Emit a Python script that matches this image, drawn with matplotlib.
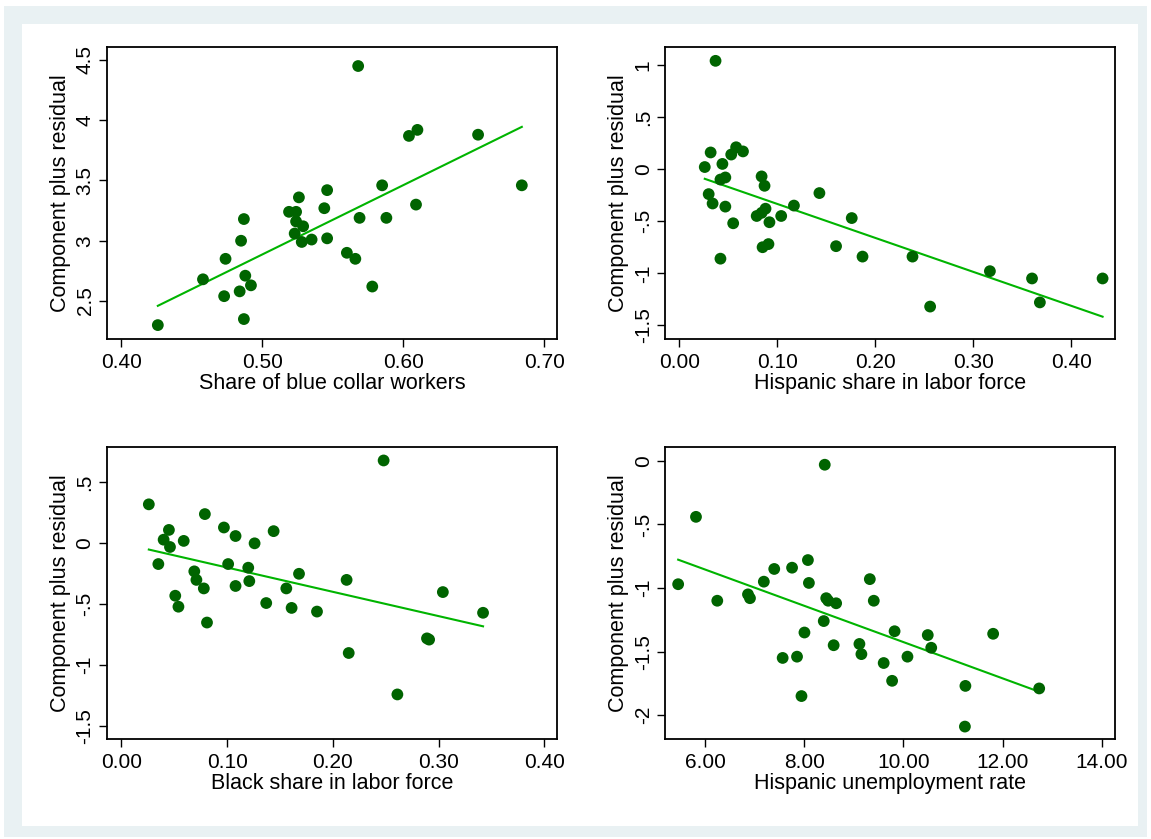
import matplotlib
matplotlib.use("Agg")
import matplotlib.pyplot as plt
from matplotlib.patches import Rectangle

plt.rcParams['font.family'] = ['Liberation Sans', 'DejaVu Sans']

# panel 1: share of blue collar workers
blue_x = [0.426, 0.458, 0.474, 0.473, 0.484, 0.485, 0.487, 0.488, 0.492, 0.487,
          0.519, 0.524, 0.526, 0.524, 0.529, 0.523, 0.528, 0.535, 0.544, 0.546,
          0.546, 0.560, 0.566, 0.569, 0.568, 0.578, 0.585, 0.588, 0.604, 0.610,
          0.609, 0.653, 0.684]
blue_y = [2.30, 2.68, 2.85, 2.54, 2.58, 3.00, 3.18, 2.71, 2.63, 2.35,
          3.24, 3.24, 3.36, 3.16, 3.12, 3.06, 2.99, 3.01, 3.27, 3.42,
          3.02, 2.90, 2.85, 3.19, 4.45, 2.62, 3.46, 3.19, 3.87, 3.92,
          3.30, 3.88, 3.46]
blue_fit_x = [0.426, 0.684]
blue_fit_y = [2.46, 3.945]

# panel 2: hispanic share in labor force
hisp_x = [0.037, 0.032, 0.026, 0.044, 0.053, 0.058, 0.065, 0.042, 0.047, 0.030,
          0.034, 0.047, 0.055, 0.042, 0.084, 0.087, 0.079, 0.084, 0.088, 0.092,
          0.085, 0.091, 0.104, 0.117, 0.143, 0.176, 0.160, 0.187, 0.238, 0.256,
          0.317, 0.360, 0.368, 0.432]
hisp_y = [1.04, 0.16, 0.02, 0.05, 0.14, 0.21, 0.17, -0.10, -0.08, -0.24,
          -0.33, -0.36, -0.52, -0.86, -0.07, -0.16, -0.45, -0.42, -0.38, -0.51,
          -0.75, -0.72, -0.45, -0.35, -0.23, -0.47, -0.74, -0.84, -0.84, -1.32,
          -0.98, -1.05, -1.28, -1.05]
hisp_fit_x = [0.026, 0.432]
hisp_fit_y = [-0.093, -1.417]

# panel 3: black share in labor force
black_x = [0.026, 0.035, 0.045, 0.040, 0.046, 0.059, 0.051, 0.054, 0.069, 0.071,
           0.078, 0.079, 0.081, 0.097, 0.101, 0.108, 0.108, 0.120, 0.121, 0.126,
           0.137, 0.144, 0.156, 0.161, 0.168, 0.185, 0.213, 0.215, 0.248, 0.261,
           0.289, 0.291, 0.304, 0.342]
black_y = [0.32, -0.17, 0.11, 0.03, -0.03, 0.02, -0.43, -0.52, -0.23, -0.30,
           -0.37, 0.24, -0.65, 0.13, -0.17, 0.06, -0.35, -0.20, -0.31, 0.00,
           -0.49, 0.10, -0.37, -0.53, -0.25, -0.56, -0.30, -0.90, 0.68, -1.24,
           -0.78, -0.79, -0.40, -0.57]
black_fit_x = [0.026, 0.342]
black_fit_y = [-0.051, -0.681]

# panel 4: hispanic unemployment rate
unemp_x = [5.45, 5.81, 6.24, 6.86, 6.90, 7.18, 7.39, 7.75, 8.07, 8.09,
           7.56, 7.85, 7.94, 8.00, 8.39, 8.41, 8.44, 8.48, 8.64, 8.59,
           9.11, 9.15, 9.32, 9.40, 9.60, 9.77, 9.82, 10.08, 10.49, 10.56,
           11.25, 11.24, 11.81, 12.74]
unemp_y = [-0.97, -0.44, -1.10, -1.05, -1.08, -0.95, -0.85, -0.84, -0.78, -0.96,
           -1.55, -1.54, -1.85, -1.35, -1.26, -0.03, -1.08, -1.10, -1.12, -1.45,
           -1.44, -1.52, -0.93, -1.10, -1.59, -1.73, -1.34, -1.54, -1.37, -1.47,
           -1.77, -2.09, -1.36, -1.79]
unemp_fit_x = [5.45, 12.74]
unemp_fit_y = [-0.777, -1.816]

panels = [
    dict(x=blue_x, y=blue_y, fx=blue_fit_x, fy=blue_fit_y,
         xlabel="Share of blue collar workers",
         xticks=[0.4, 0.5, 0.6, 0.7], xfmt="{:.2f}", xlim=(0.39, 0.709),
         yticks=[2.5, 3, 3.5, 4, 4.5], ylabels=["2.5", "3", "3.5", "4", "4.5"],
         ylim=(2.185, 4.608), rect=[0.093, 0.596, 0.391, 0.348]),
    dict(x=hisp_x, y=hisp_y, fx=hisp_fit_x, fy=hisp_fit_y,
         xlabel="Hispanic share in labor force",
         xticks=[0, 0.1, 0.2, 0.3, 0.4], xfmt="{:.2f}", xlim=(-0.0143, 0.445),
         yticks=[-1.5, -1, -0.5, 0, 0.5, 1], ylabels=["-1.5", "-1", "-.5", "0", ".5", "1"],
         ylim=(-1.631, 1.173), rect=[0.578, 0.596, 0.391, 0.348]),
    dict(x=black_x, y=black_y, fx=black_fit_x, fy=black_fit_y,
         xlabel="Black share in labor force",
         xticks=[0, 0.1, 0.2, 0.3, 0.4], xfmt="{:.2f}", xlim=(-0.0135, 0.412),
         yticks=[-1.5, -1, -0.5, 0, 0.5], ylabels=["-1.5", "-1", "-.5", "0", ".5"],
         ylim=(-1.607, 0.789), rect=[0.093, 0.119, 0.391, 0.348]),
    dict(x=unemp_x, y=unemp_y, fx=unemp_fit_x, fy=unemp_fit_y,
         xlabel="Hispanic unemployment rate",
         xticks=[6, 8, 10, 12, 14], xfmt="{:.2f}", xlim=(5.19, 14.277),
         yticks=[-2, -1.5, -1, -0.5, 0], ylabels=["-2", "-1.5", "-1", "-.5", "0"],
         ylim=(-2.189, 0.108), rect=[0.578, 0.119, 0.391, 0.348]),
]

fig = plt.figure(figsize=(11.51, 8.39), dpi=100)
fig.patch.set_facecolor("white")
# light outer graph region with white inner region
fig.patches.append(Rectangle((4 / 1151, 2 / 839), 1143 / 1151, 831 / 839,
                             transform=fig.transFigure, facecolor="#e9f1f3",
                             edgecolor="none", zorder=-2))
fig.patches.append(Rectangle((22 / 1151, 13 / 839), 1116 / 1151, 802 / 839,
                             transform=fig.transFigure, facecolor="white",
                             edgecolor="none", zorder=-1))

for p in panels:
    ax = fig.add_axes(p["rect"])
    ax.scatter(p["x"], p["y"], s=72, color="#006400", edgecolors="none", zorder=3)
    ax.plot(p["fx"], p["fy"], color="#00b400", lw=1.5, zorder=2)
    ax.set_xlim(p["xlim"])
    ax.set_ylim(p["ylim"])
    ax.set_xticks(p["xticks"])
    ax.set_xticklabels([p["xfmt"].format(t) for t in p["xticks"]])
    ax.set_yticks(p["yticks"])
    ax.set_yticklabels(p["ylabels"], rotation=90, va="center")
    ax.tick_params(direction="out", length=6, width=1, labelsize=15)
    ax.tick_params(axis="x", pad=4)
    ax.tick_params(axis="y", pad=3)
    ax.set_xlabel(p["xlabel"], fontsize=15.5, labelpad=0.5)
    ax.set_ylabel("Component plus residual", fontsize=15.5, labelpad=3.5)
    for s in ax.spines.values():
        s.set_linewidth(1.3)

fig.savefig("out.png", dpi=100)
